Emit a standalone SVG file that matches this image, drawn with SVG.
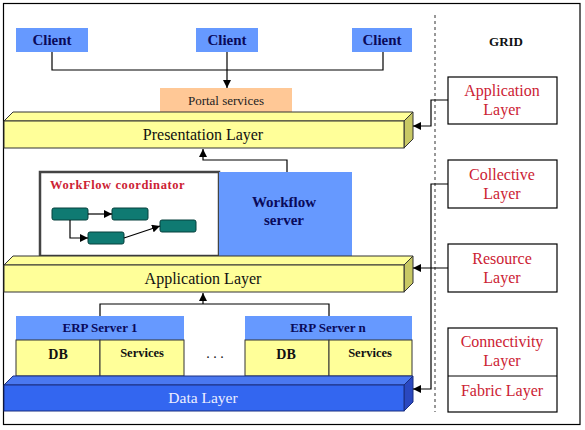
<svg xmlns="http://www.w3.org/2000/svg" width="585" height="430" viewBox="0 0 585 430">
<defs>
<style>
text{font-family:'Liberation Serif','Tinos','Noto Serif','DejaVu Serif','Times New Roman',Times,serif;}
.bold{font-weight:bold;}
.client{fill:#6699FF;}
.navy{fill:#0A0A5A;}
.yfront{fill:#FFFF99;stroke:#333;stroke-width:1;}
.ytop{fill:#FFFF99;stroke:#333;stroke-width:1;}
.yside{fill:#C8C864;stroke:#333;stroke-width:1;}
.grid{fill:#fff;stroke:#000;stroke-width:1.2;}
.red{fill:#CC2233;}
.conn{fill:none;stroke:#000;stroke-width:1.2;}
.teal{fill:#0F7A72;stroke:#06403C;stroke-width:1;}
</style>
<marker id="arr" viewBox="0 0 10 10" refX="10" refY="5" markerWidth="8" markerHeight="8" markerUnits="userSpaceOnUse" orient="auto">
<path d="M0,0 L10,5 L0,10 z" fill="#000"/>
</marker>
</defs>
<rect x="0" y="0" width="585" height="430" fill="#fff"/>
<rect x="3.5" y="3.5" width="576.5" height="421" fill="none" stroke="#000" stroke-width="1.2"/>

<g id="client1"><rect class="client" x="16" y="28" width="72" height="24"/><text class="bold navy" x="52" y="45" font-size="15" text-anchor="middle">Client</text></g>
<g id="client2"><rect class="client" x="196" y="28" width="62" height="24"/><text class="bold navy" x="227" y="45" font-size="15" text-anchor="middle">Client</text></g>
<g id="client3"><rect class="client" x="352" y="28" width="60" height="24"/><text class="bold navy" x="382" y="45" font-size="15" text-anchor="middle">Client</text></g>

<g id="portal"><rect x="160" y="88" width="132" height="24" fill="#FFC896"/><text x="226" y="105" font-size="13" fill="#222" text-anchor="middle">Portal services</text></g>

<g id="presentation">
<polygon class="ytop" points="4,121 13,112 413,112 404,121"/>
<polygon class="yside" points="404,121 413,112 413,139 404,148"/>
<rect class="yfront" x="4" y="121" width="400" height="27"/>
<text x="203" y="140" font-size="16" fill="#111" text-anchor="middle">Presentation Layer</text>
</g>

<g id="workflow-coordinator">
<rect x="40" y="172" width="179" height="84" fill="#fff" stroke="#444" stroke-width="2.5"/>
<text class="bold" x="50" y="189" font-size="12.5" fill="#CC2233" letter-spacing="0.6">WorkFlow coordinator</text>
<rect class="teal" x="52" y="208" width="36" height="12" rx="2"/>
<rect class="teal" x="112" y="208" width="36" height="12" rx="2"/>
<rect class="teal" x="88" y="232" width="36" height="12" rx="2"/>
<rect class="teal" x="160" y="220" width="36" height="12" rx="2"/>
<g class="conn" stroke-width="1">
<line x1="88" y1="214" x2="112" y2="214" marker-end="url(#arr)"/>
<polyline points="70,220 70,238 88,238" marker-end="url(#arr)"/>
<line x1="124" y1="238" x2="160" y2="226" marker-end="url(#arr)"/>
</g>
</g>

<g id="workflow-server">
<rect x="219" y="172" width="133" height="84" fill="#6699FF"/>
<text class="bold navy" x="284" y="207" font-size="15" text-anchor="middle">Workflow</text>
<text class="bold navy" x="284" y="225" font-size="15" text-anchor="middle">server</text>
</g>

<g id="application">
<polygon class="ytop" points="4,265 13,256 413,256 404,265"/>
<polygon class="yside" points="404,265 413,256 413,283 404,292"/>
<rect class="yfront" x="4" y="265" width="400" height="27"/>
<text x="203" y="284" font-size="16" fill="#111" text-anchor="middle">Application Layer</text>
</g>

<g id="erp1">
<rect x="16" y="316" width="168" height="24" fill="#6699FF"/>
<text class="bold navy" x="100" y="332" font-size="13" text-anchor="middle">ERP Server 1</text>
<rect x="16" y="340" width="84" height="36" fill="#FFFF99" stroke="#333" stroke-width="1"/>
<rect x="100" y="340" width="84" height="36" fill="#FFFF99" stroke="#333" stroke-width="1"/>
<text class="bold" x="58" y="359" font-size="14" fill="#111" text-anchor="middle">DB</text>
<text class="bold" x="142" y="357" font-size="12.5" fill="#111" text-anchor="middle">Services</text>
</g>

<text x="215" y="358" font-size="14" fill="#111" text-anchor="middle">. . .</text>

<g id="erpn">
<rect x="245" y="316" width="167" height="24" fill="#6699FF"/>
<text class="bold navy" x="328" y="332" font-size="13" text-anchor="middle">ERP Server n</text>
<rect x="245" y="340" width="84" height="36" fill="#FFFF99" stroke="#333" stroke-width="1"/>
<rect x="329" y="340" width="83" height="36" fill="#FFFF99" stroke="#333" stroke-width="1"/>
<text class="bold" x="286" y="359" font-size="14" fill="#111" text-anchor="middle">DB</text>
<text class="bold" x="370" y="357" font-size="12.5" fill="#111" text-anchor="middle">Services</text>
</g>

<g id="data">
<polygon points="4,385 13,376 413,376 404,385" fill="#4A78F0" stroke="#1A2E80" stroke-width="1"/>
<polygon points="404,385 413,376 413,402 404,411" fill="#2A48C0" stroke="#1A2E80" stroke-width="1"/>
<rect x="4" y="385" width="400" height="26" fill="#3366F0" stroke="#1A2E80" stroke-width="1"/>
<text x="203" y="403" font-size="15.5" fill="#EEF" text-anchor="middle">Data Layer</text>
</g>

<line id="divider" x1="435" y1="15" x2="435" y2="412" stroke="#777" stroke-width="1.5" stroke-dasharray="3,3"/>
<text class="bold" x="506" y="46" font-size="13" fill="#111" text-anchor="middle">GRID</text>

<g id="grid-application"><rect class="grid" x="448" y="77" width="109" height="47"/><text class="red" x="502" y="96" font-size="16" text-anchor="middle">Application</text><text class="red" x="502" y="115" font-size="16" text-anchor="middle">Layer</text></g>
<g id="grid-collective"><rect class="grid" x="448" y="160" width="109" height="48"/><text class="red" x="502" y="180" font-size="16" text-anchor="middle">Collective</text><text class="red" x="502" y="199" font-size="16" text-anchor="middle">Layer</text></g>
<g id="grid-resource"><rect class="grid" x="448" y="244" width="109" height="48"/><text class="red" x="502" y="264" font-size="16" text-anchor="middle">Resource</text><text class="red" x="502" y="283" font-size="16" text-anchor="middle">Layer</text></g>
<g id="grid-connectivity"><rect class="grid" x="448" y="328" width="109" height="84"/><line x1="448" y1="376" x2="557" y2="376" stroke="#000" stroke-width="1"/><text class="red" x="502" y="347" font-size="16" text-anchor="middle">Connectivity</text><text class="red" x="502" y="366" font-size="16" text-anchor="middle">Layer</text><text class="red" x="502" y="396" font-size="16" text-anchor="middle">Fabric Layer</text></g>

<g id="connectors" class="conn">
<polyline points="52,52 52,70 383,70 383,52"/>
<line x1="227" y1="52" x2="227" y2="88" marker-end="url(#arr)"/>
<polyline points="287,172 287,160 203,160 203,149" marker-end="url(#arr)"/>
<polyline points="100,316 100,304 329,304 329,316"/>
<line x1="203" y1="304" x2="203" y2="293" marker-end="url(#arr)"/>
<polyline points="448,100 431,100 431,126 413,126" marker-end="url(#arr)"/>
<polyline points="448,184 431,184 431,389 413,389" marker-end="url(#arr)"/>
<line x1="448" y1="268" x2="413" y2="268" marker-end="url(#arr)"/>
</g>
</svg>
